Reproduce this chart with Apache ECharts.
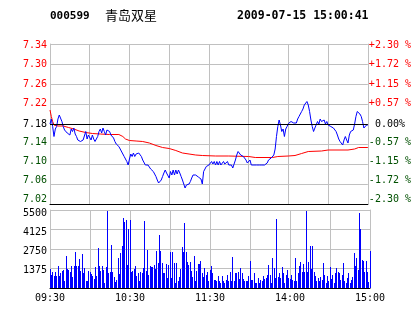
<!DOCTYPE html>
<html>
<head>
<meta charset="utf-8">
<script src="https://cdn.jsdelivr.net/npm/echarts@6/dist/echarts.min.js"></script>
<style>
html,body{margin:0;padding:0;background:#fff;}
#c{width:414px;height:314px;}
</style>
</head>
<body>
<div id="c"></div>
<script>
// ---- data ----
const stockCode = '000599';
const stockName = '青岛双星';
const stamp = '2009-07-15 15:00:41';
const prevClose = 7.18;
const timeLabels = ['09:30', '10:30', '11:30', '14:00', '15:00'];
const timeLabelMinutes = [0, 60, 120, 180, 240];
const priceTicks = ['7.02', '7.06', '7.10', '7.14', '7.18', '7.22', '7.26', '7.30', '7.34'];
const pctTicks = ['-2.30 %', '-1.72 %', '-1.15 %', '-0.57 %', ' 0.00%', '+0.57 %', '+1.15 %', '+1.72 %', '+2.30 %'];
const volTicks = ['', '1375', '2750', '4125', '5500'];
const priceFloor = 7.02, priceStep = 0.04;
const volMax = 5500, volStep = 1375;

// minute price (index = minutes since 09:30, lunch break removed)
const price = [
7.180,7.190,7.175,7.155,7.170,7.175,7.190,7.198,7.194,7.185,
7.175,7.168,7.172,7.162,7.165,7.158,7.170,7.165,7.172,7.160,
7.155,7.148,7.145,7.145,7.145,7.148,7.145,7.165,7.150,7.158,
7.162,7.148,7.158,7.150,7.145,7.148,7.155,7.165,7.170,7.162,
7.172,7.165,7.158,7.168,7.170,7.165,7.158,7.155,7.152,7.145,
7.140,7.140,7.135,7.130,7.128,7.120,7.115,7.110,7.105,7.098,
7.110,7.120,7.115,7.122,7.115,7.120,7.118,7.122,7.118,7.115,
7.108,7.105,7.098,7.100,7.098,7.095,7.090,7.092,7.085,7.080,
7.075,7.068,7.062,7.060,7.068,7.075,7.082,7.088,7.082,7.078,
7.072,7.085,7.078,7.088,7.078,7.088,7.080,7.088,7.082,7.075,
7.068,7.060,7.052,7.058,7.055,7.060,7.065,7.072,7.078,7.080,
7.078,7.075,7.074,7.075,7.070,7.060,7.085,7.090,7.095,7.098,
7.098,7.100,7.105,7.100,7.105,7.098,7.105,7.098,7.105,7.098,
7.100,7.105,7.100,7.098,7.105,7.098,7.100,7.098,7.092,7.095,
7.108,7.118,7.125,7.125,7.118,7.115,7.115,7.112,7.108,7.102,
7.098,7.108,7.098,7.098,7.098,7.098,7.098,7.098,7.098,7.098,
7.098,7.098,7.098,7.098,7.102,7.108,7.105,7.112,7.108,7.118,
7.130,7.155,7.175,7.188,7.178,7.165,7.170,7.155,7.170,7.175,
7.181,7.180,7.185,7.188,7.182,7.185,7.182,7.190,7.195,7.200,
7.205,7.210,7.218,7.222,7.225,7.218,7.205,7.188,7.175,7.165,
7.172,7.175,7.185,7.180,7.190,7.185,7.182,7.188,7.180,7.185,
7.178,7.182,7.175,7.178,7.172,7.170,7.165,7.158,7.150,7.145,
7.142,7.138,7.148,7.155,7.148,7.142,7.158,7.165,7.165,7.168,
7.180,7.195,7.205,7.208,7.200,7.195,7.185,7.172,7.175,7.178,
7.178
];

// average price line (minute, value)
const avgMinute = [0,1,2,3,6,10,14,18,22,27,32,38,45,52,55,57,60,65,70,75,80,85,90,95,100,105,110,115,125,135,150,155,168,172,180,185,190,195,205,210,225,230,233,240];
const avgPrice  = [7.208,7.195,7.185,7.178,7.176,7.176,7.173,7.170,7.166,7.163,7.161,7.160,7.159,7.159,7.155,7.150,7.147,7.146,7.145,7.142,7.137,7.133,7.131,7.127,7.122,7.120,7.118,7.117,7.116,7.116,7.115,7.113,7.113,7.115,7.116,7.117,7.121,7.125,7.126,7.128,7.128,7.130,7.133,7.133];

// minute volume
const volume = [
1340,900,1150,880,1150,850,1550,870,1060,1220,
1270,520,2260,1340,1270,1100,1550,800,1550,2510,
1550,1550,2045,1220,2400,1060,1410,470,470,1220,
1100,990,850,635,1500,880,2820,1550,1220,1550,
1270,375,1500,5450,1030,1150,3030,1130,750,445,
565,2115,990,2445,2985,4935,4630,4795,1620,4160,
4818,1130,1220,1310,1550,870,1030,470,1100,1030,
1410,4700,1200,2680,940,1550,1500,1500,1600,1340,
2630,1740,3740,2630,1760,1030,1030,1690,700,1640,
2540,700,2540,1780,350,1780,470,800,1340,2870,
2510,4580,2510,1810,1620,1810,1200,800,2260,470,
1220,1690,1690,1900,1030,800,1410,940,1100,470,
1300,1550,1060,560,560,520,870,470,330,870,
470,330,560,940,470,1130,520,2210,470,1030,
1080,1100,635,1410,1030,635,470,520,470,870,
1930,560,560,1030,330,330,700,330,560,470,
870,635,700,940,1620,940,330,2120,1410,700,
4870,750,1080,700,1500,1030,330,940,1270,700,
635,940,560,470,2120,470,1030,1550,1810,1100,
1690,1100,5450,1100,1810,2960,1340,2960,1100,870,
520,700,470,800,560,1740,940,330,870,470,
1450,635,940,330,1030,1410,1100,1030,560,940,
1740,470,380,700,1030,330,560,800,2470,1570,
2120,1300,5300,4160,2000,1900,1100,1900,1100,400,
2590
];

// ---- styling ----
const toStep = p => (p - priceFloor) / priceStep;
const mono = 'DejaVu Sans Mono';
const gridColor = '#c0c0c0';
const upColor = '#ff0000', downColor = '#005000', flatColor = '#000000';
// small vertical nudges (px) of tick labels, as in the reference
const priceLabelShift = [-5, -4, -3, -2, 0, -1, 0, 0, 1.5];
const volLabelShift = [0, 1.5, 2, 2.5, 3];

function shiftPad(s) { return s < 0 ? [0, 0, -2 * s, 0] : [2 * s, 0, 0, 0]; }
function buildRich(shifts, colorOf) {
  const r = {};
  shifts.forEach((s, k) => {
    r['t' + k] = {color: colorOf(k), fontFamily: mono, fontSize: 10, padding: shiftPad(s)};
  });
  return r;
}
const priceColorOf = k => k > 4 ? upColor : (k < 4 ? downColor : flatColor);

const chart = echarts.init(document.getElementById('c'), null, {renderer: 'canvas'});
const xBase = {
  type: 'value', min: 0, max: 240, interval: 30,
  axisTick: {show: false},
  splitLine: {show: true, lineStyle: {color: gridColor, width: 1}},
  axisLine: {show: true, onZero: false, lineStyle: {color: '#000', width: 1}}
};
chart.setOption({
  animation: false,
  backgroundColor: '#fff',
  graphic: [
    {type: 'text', left: 50, top: 11, style: {text: stockCode, font: 'bold 11px "DejaVu Sans Mono"', fill: '#000'}},
    {type: 'text', left: 105, top: 9, style: {text: stockName, font: '13px "Noto Sans CJK SC"', fill: '#000'}},
    {type: 'text', left: 237, top: 10, style: {text: stamp, font: 'bold 11.5px "DejaVu Sans Mono"', fill: '#000'}}
  ],
  grid: [
    {left: 50, right: 44, top: 44, height: 160},
    {left: 50, right: 44, top: 210, height: 78}
  ],
  xAxis: [
    Object.assign({}, xBase, {gridIndex: 0, axisLabel: {show: false}}),
    Object.assign({}, xBase, {gridIndex: 1,
      axisLabel: {show: true, fontFamily: mono, fontSize: 10, color: '#000', margin: 5,
        formatter: v => { const k = timeLabelMinutes.indexOf(Math.round(v)); return k >= 0 ? timeLabels[k] : ''; }}})
  ],
  yAxis: [
    {type: 'value', gridIndex: 0, min: 0, max: priceTicks.length - 1, interval: 1, position: 'left',
      axisLine: {show: true, lineStyle: {color: gridColor}}, axisTick: {show: false},
      splitLine: {show: true, lineStyle: {color: gridColor, width: 1}},
      axisLabel: {margin: 3, fontFamily: mono, fontSize: 10,
        formatter: v => { const k = Math.round(v); return '{t' + k + '|' + priceTicks[k] + '}'; },
        rich: buildRich(priceLabelShift, priceColorOf)}},
    {type: 'value', gridIndex: 0, min: 0, max: pctTicks.length - 1, interval: 1, position: 'right',
      axisLine: {show: true, lineStyle: {color: gridColor}}, axisTick: {show: false}, splitLine: {show: false},
      axisLabel: {margin: 1, fontFamily: mono, fontSize: 10,
        formatter: v => { const k = Math.round(v); return '{t' + k + '|' + pctTicks[k] + '}'; },
        rich: buildRich(priceLabelShift, priceColorOf)}},
    {type: 'value', gridIndex: 1, min: 0, max: volMax, interval: volStep, position: 'left',
      axisLine: {show: true, lineStyle: {color: gridColor}}, axisTick: {show: false},
      splitLine: {show: true, lineStyle: {color: gridColor, width: 1}},
      axisLabel: {margin: 3, fontFamily: mono, fontSize: 10, color: '#000',
        formatter: v => { const k = Math.round(v / volStep); return volTicks[k] ? '{t' + k + '|' + volTicks[k] + '}' : ''; },
        rich: buildRich(volLabelShift, () => '#000')}},
    {type: 'value', gridIndex: 1, min: 0, max: volMax, interval: volStep, position: 'right',
      axisLine: {show: true, lineStyle: {color: gridColor}}, axisTick: {show: false},
      splitLine: {show: false}, axisLabel: {show: false}}
  ],
  series: [
    {type: 'line', xAxisIndex: 0, yAxisIndex: 0, symbol: 'none', silent: true, z: 3,
      data: avgMinute.map((m, k) => [m, toStep(avgPrice[k])]),
      lineStyle: {color: '#ff0000', width: 1}},
    {type: 'line', xAxisIndex: 0, yAxisIndex: 0, symbol: 'none', silent: true, z: 4,
      data: price.map((p, i) => [i, toStep(p)]),
      lineStyle: {color: '#0000ff', width: 1},
      markLine: {silent: true, symbol: 'none', label: {show: false},
        lineStyle: {color: '#000', width: 1, type: 'solid'},
        data: [{yAxis: toStep(prevClose)}]}},
    {type: 'custom', xAxisIndex: 1, yAxisIndex: 2, silent: true, z: 3,
      data: volume.map((v, i) => [i, v]),
      renderItem: (params, api) => {
        const base = api.coord([api.value(0), 0]);
        const top = api.coord([api.value(0), api.value(1)]);
        const px = Math.round(base[0] - 0.5);
        const y0 = Math.round(top[1]);
        const y1 = Math.round(base[1]);
        return {type: 'rect', shape: {x: px, y: y0, width: 1, height: y1 - y0},
          style: {fill: '#0000ff'}};
      }}
  ]
});
</script>
</body>
</html>
